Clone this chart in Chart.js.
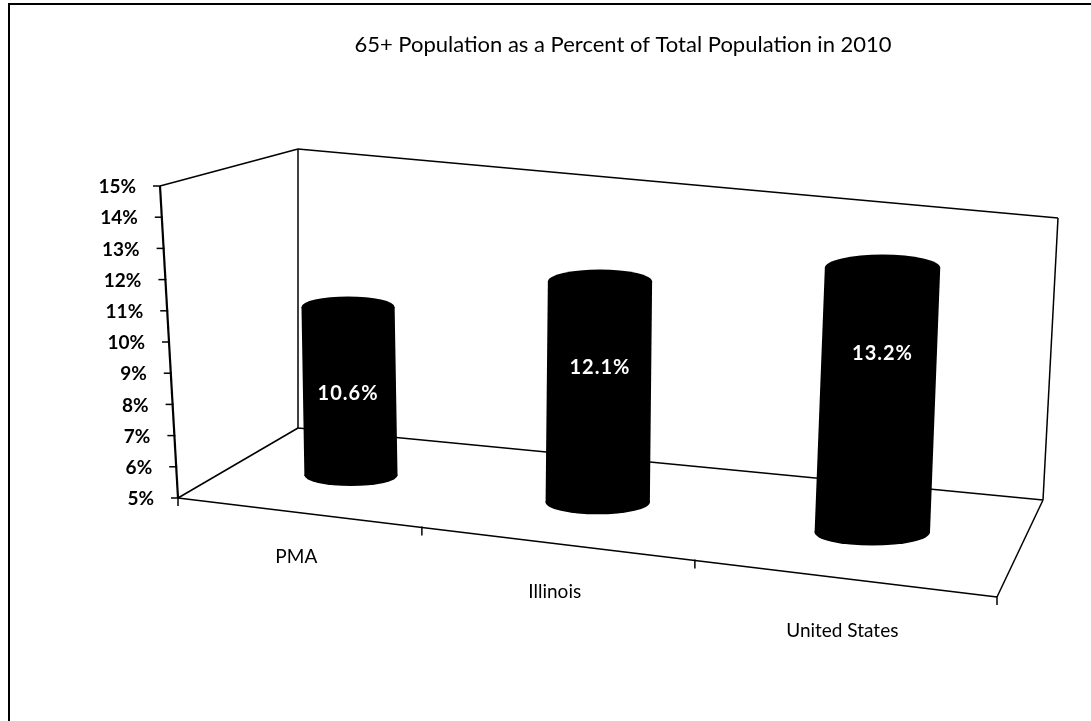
<!DOCTYPE html>
<html>
<head>
<meta charset="utf-8">
<title>65+ Population as a Percent of Total Population in 2010</title>
<script src="https://cdn.jsdelivr.net/npm/chart.js@4.4.1/dist/chart.umd.min.js"></script>
<style>
    html, body { margin: 0; padding: 0; background: #fff; }
    #wrap { width: 1091px; height: 721px; }
</style>
</head>
<body>
<div id="wrap"><canvas id="chart" width="1091" height="721"></canvas></div>
<script>
var chartTitle = '65+ Population as a Percent of Total Population in 2010';
var categories = ['PMA', 'Illinois', 'United States'];
var values = [10.6, 12.1, 13.2];
var yMin = 5;
var yMax = 15;
var yStep = 1;

// screen corners of the 3d box: f/b = front/back, b/t = bottom/top, l/r = left/right
var box = {
    fbl: [178, 498], ftl: [160, 186], fbr: [997, 597], ftr: [1017, 221],
    bbl: [298, 428], btl: [298, 149], bbr: [1043, 500], btr: [1058, 218]
};
var perspective = 0.16;    // squeezes the left half of the floor a bit
var barDepth = 0.5;        // cylinders stand in the middle of the floor

function lerp(a, b, t) {
    return [a[0] + (b[0] - a[0]) * t, a[1] + (b[1] - a[1]) * t];
}

// u, v, d all 0..1 (along categories, along values, into the page)
function project(u, v, d) {
    var w = u + perspective * u * (u - 1);
    var f = lerp(lerp(box.fbl, box.fbr, w), lerp(box.ftl, box.ftr, w), v);
    var b = lerp(lerp(box.bbl, box.bbr, w), lerp(box.btl, box.btr, w), v);
    return lerp(f, b, d);
}

function pct(v) {
    return v + '%';
}

function line(ctx, a, b) {
    ctx.beginPath();
    ctx.moveTo(a[0], a[1]);
    ctx.lineTo(b[0], b[1]);
    ctx.stroke();
}

var frame3d = {
    id: 'frame3d',
    beforeDraw: function (chart) {
        var ctx = chart.ctx;
        ctx.save();
        ctx.fillStyle = '#fff';
        ctx.fillRect(0, 0, chart.width, chart.height);
        ctx.strokeStyle = '#000';
        ctx.lineWidth = 2;
        line(ctx, [9, 3], [9, 721]);
        line(ctx, [8, 4], [1091, 4]);
        ctx.restore();
    },
    beforeDatasetsDraw: function (chart) {
        var ctx = chart.ctx;
        var area = chart.chartArea;
        var yScale = chart.scales.y;
        var xScale = chart.scales.x;
        ctx.save();
        ctx.strokeStyle = '#000';
        ctx.lineWidth = 1.5;

        // walls and floor
        line(ctx, box.ftl, box.btl);
        line(ctx, box.btl, box.bbl);
        line(ctx, box.fbl, box.bbl);
        line(ctx, box.btl, box.btr);
        line(ctx, box.btr, box.bbr);
        line(ctx, box.bbl, box.bbr);
        line(ctx, box.fbl, box.fbr);
        line(ctx, box.fbr, box.bbr);
        ctx.lineWidth = 2.2;
        line(ctx, box.fbl, box.ftl);

        // value axis ticks and labels
        ctx.lineWidth = 1.5;
        ctx.fillStyle = '#000';
        ctx.font = 'bold 19px Lato';
        ctx.textAlign = 'right';
        ctx.textBaseline = 'middle';
        for (var v = yMin; v <= yMax; v += yStep) {
            var fv = (area.bottom - yScale.getPixelForValue(v)) / area.height;
            var p = project(0, fv, 0);
            line(ctx, [p[0] - 7, p[1]], [p[0] + 1, p[1]]);
            ctx.fillText(pct(v), p[0] - 24, p[1] + 1);
        }

        // category ticks along the front edge
        var n = categories.length;
        for (var i = 0; i <= n; i++) {
            var px;
            if (i === 0) { px = area.left; }
            else if (i === n) { px = area.right; }
            else { px = (xScale.getPixelForTick(i - 1) + xScale.getPixelForTick(i)) / 2; }
            var q = project((px - area.left) / area.width, 0, 0);
            line(ctx, [q[0], q[1] - 1], [q[0], q[1] + 8]);
        }

        // category labels
        ctx.font = '19px Lato';
        ctx.textAlign = 'center';
        categories.forEach(function (name, i) {
            var u = (xScale.getPixelForTick(i) - area.left) / area.width;
            var q = project(u, 0, 0);
            ctx.fillText(name, q[0], q[1] + 42 + 13 * u);
        });
        ctx.restore();
    },
    afterDatasetsDraw: function (chart) {
        var ctx = chart.ctx;
        var area = chart.chartArea;
        var yScale = chart.scales.y;
        var meta = chart.getDatasetMeta(0);
        var data = chart.data.datasets[0].data;
        // cylinders start on the floor, i.e. at the lowest value of the axis
        var vb = (area.bottom - yScale.getPixelForValue(yMin)) / area.height;
        ctx.save();
        meta.data.forEach(function (bar, i) {
            var uc = (bar.x - area.left) / area.width;
            var ul = (bar.x - bar.width / 2 - area.left) / area.width;
            var ur = (bar.x + bar.width / 2 - area.left) / area.width;
            var vt = (area.bottom - bar.y) / area.height;
            var base = project(uc, vb, barDepth);
            var top = project(uc, vt, barDepth);
            var rx = (project(ur, vb, barDepth)[0] - project(ul, vb, barDepth)[0]) / 2;
            var ry = rx * 0.23;

            ctx.fillStyle = '#000';
            ctx.beginPath();
            ctx.ellipse(base[0], base[1], rx, ry, 0, 0, Math.PI * 2);
            ctx.fill();
            ctx.beginPath();
            ctx.moveTo(top[0] - rx, top[1]);
            ctx.lineTo(base[0] - rx, base[1]);
            ctx.lineTo(base[0] + rx, base[1]);
            ctx.lineTo(top[0] + rx, top[1]);
            ctx.closePath();
            ctx.fill();
            ctx.beginPath();
            ctx.ellipse(top[0], top[1], rx, ry, 0, 0, Math.PI * 2);
            ctx.fill();

            ctx.fillStyle = '#fff';
            ctx.font = 'bold 20px Lato';
            ctx.letterSpacing = '1px';
            ctx.textAlign = 'center';
            ctx.textBaseline = 'middle';
            ctx.fillText(data[i].toFixed(1) + '%', top[0], top[1] + 86);
        });
        ctx.restore();
    }
};

var chart = new Chart(document.getElementById('chart'), {
    type: 'bar',
    data: {
        labels: categories,
        datasets: [{
            label: '65+ share',
            data: values,
            backgroundColor: 'rgba(0,0,0,0)',
            borderWidth: 0,
            barPercentage: 0.4,
            categoryPercentage: 1
        }]
    },
    options: {
        responsive: false,
        animation: false,
        layout: { padding: { left: 155, right: 0, top: 0, bottom: 0 } },
        plugins: {
            legend: { display: false },
            tooltip: { enabled: false },
            title: {
                display: true,
                text: chartTitle,
                color: '#000',
                font: { family: 'Lato', size: 22, weight: 'normal' },
                padding: { top: 32, bottom: 10 }
            }
        },
        scales: {
            x: { display: false },
            y: { display: false, min: yMin, max: yMax, ticks: { stepSize: yStep } }
        }
    },
    plugins: [frame3d]
});
</script>
</body>
</html>
